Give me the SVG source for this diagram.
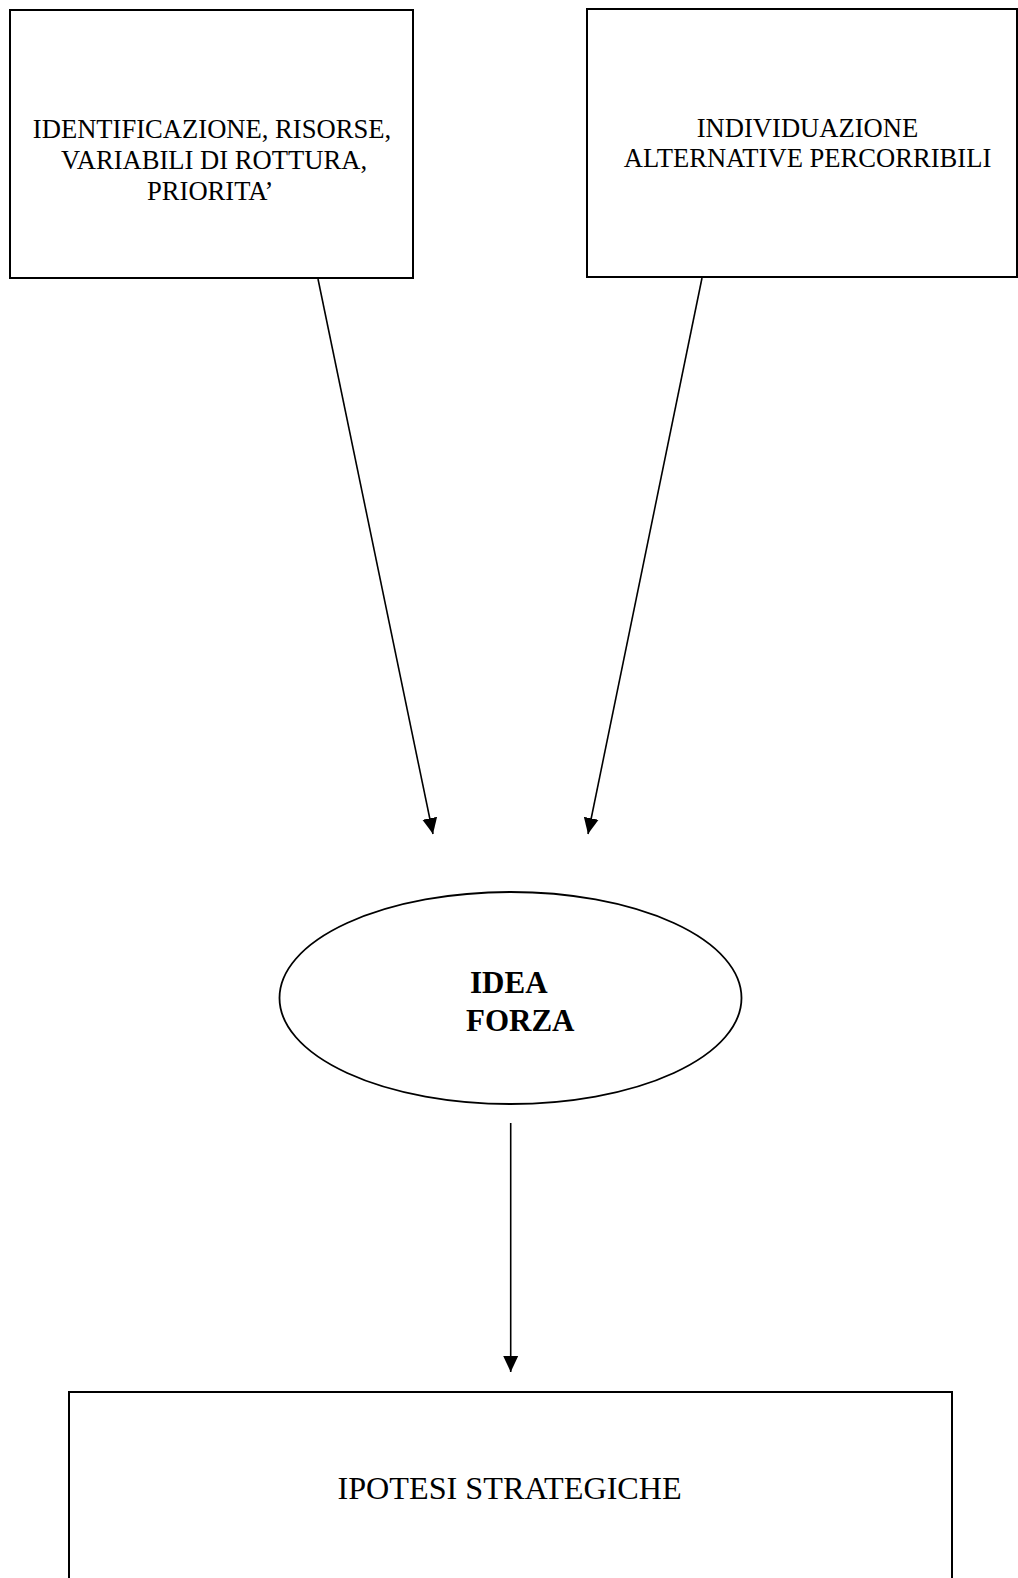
<svg xmlns="http://www.w3.org/2000/svg" width="1018" height="1578" viewBox="0 0 1018 1578">
  <style>
    .box { fill: #ffffff; stroke: #000000; stroke-width: 2; }
    .oval { fill: #ffffff; stroke: #000000; stroke-width: 1.8; }
    .lbl { font-family: "Liberation Serif", "Times New Roman", serif; font-size: 26.6px; fill: #000000; }
    .lbl-big { font-family: "Liberation Serif", "Times New Roman", serif; font-size: 32.2px; fill: #000000; }
    .lbl-bold { font-family: "Liberation Serif", "Times New Roman", serif; font-size: 31px; font-weight: bold; fill: #000000; }
    .edge { stroke: #000000; stroke-width: 1.6; fill: none; marker-end: url(#arrow); }
  </style>
  <defs>
    <marker id="arrow" markerUnits="userSpaceOnUse" markerWidth="16" markerHeight="16" refX="16" refY="7.5" orient="auto" viewBox="0 0 16 15">
      <path d="M0,0 L16,7.5 L0,15 Z" fill="#000000"/>
    </marker>
  </defs>
  <rect width="1018" height="1578" fill="#ffffff"/>

  <g id="node-identificazione">
    <rect class="box" x="10" y="10" width="403" height="268"/>
    <text class="lbl" x="212" y="137.5" text-anchor="middle">IDENTIFICAZIONE, RISORSE,</text>
    <text class="lbl" x="214" y="168.5" text-anchor="middle">VARIABILI DI ROTTURA,</text>
    <text class="lbl" x="147" y="200">PRIORITA’</text>
  </g>

  <g id="node-individuazione">
    <rect class="box" x="587" y="9" width="430" height="268"/>
    <text class="lbl" x="807.5" y="137" text-anchor="middle">INDIVIDUAZIONE</text>
    <text class="lbl" x="807.5" y="167" text-anchor="middle">ALTERNATIVE PERCORRIBILI</text>
  </g>

  <g id="node-idea-forza">
    <ellipse class="oval" cx="510.5" cy="998" rx="231" ry="106"/>
    <text class="lbl-bold" x="470" y="993">IDEA</text>
    <text class="lbl-bold" x="466" y="1031">FORZA</text>
  </g>

  <g id="node-ipotesi">
    <rect class="box" x="69" y="1392" width="883" height="200"/>
    <text class="lbl-big" x="337.5" y="1499">IPOTESI STRATEGICHE</text>
  </g>

  <g id="connectors">
    <line class="edge" x1="318" y1="279" x2="433" y2="834"/>
    <line class="edge" x1="702" y1="278" x2="588" y2="834"/>
    <line class="edge" x1="510.7" y1="1123" x2="510.7" y2="1372"/>
  </g>
</svg>
